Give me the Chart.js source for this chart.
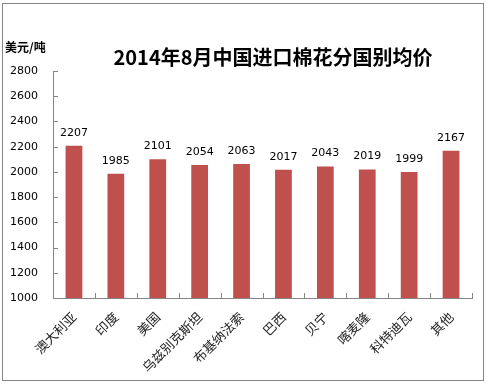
<!DOCTYPE html>
<html>
<head>
<meta charset="utf-8">
<script src="https://cdn.jsdelivr.net/npm/chart.js@4/dist/chart.umd.min.js"></script>
<style>
  html, body { margin: 0; padding: 0; background: #fff; }
  #wrap { position: relative; width: 487px; height: 387px; }
</style>
</head>
<body>
<div id="wrap"><canvas id="chart" width="487" height="387"></canvas></div>
<script>
const countries = ["澳大利亚", "印度", "美国", "乌兹别克斯坦", "布基纳法索", "巴西", "贝宁", "喀麦隆", "科特迪瓦", "其他"];
const prices = [2207, 1985, 2101, 2054, 2063, 2017, 2043, 2019, 1999, 2167];
const yTicks = [1000, 1200, 1400, 1600, 1800, 2000, 2200, 2400, 2600, 2800];

const title = "2014年8月中国进口棉花分国别均价";
const unit = "美元/吨";

const axisGray = "#868686";

// frame, title, unit, inner tick marks, value labels
const decor = {
  id: "decor",
  beforeDraw(chart) {
    const ctx = chart.ctx;
    ctx.save();
    ctx.fillStyle = "#fff";
    ctx.fillRect(0, 0, chart.width, chart.height);
    ctx.strokeStyle = axisGray;
    ctx.lineWidth = 1;
    ctx.strokeRect(2.5, 3.5, 481, 377);
    ctx.restore();
  },
  afterDraw(chart) {
    const ctx = chart.ctx;
    const area = chart.chartArea;
    const x = chart.scales.x, y = chart.scales.y;
    ctx.save();

    ctx.fillStyle = "#000";
    ctx.textAlign = "center";
    ctx.textBaseline = "middle";
    ctx.font = "bold 20px 'Noto Sans CJK SC'";
    ctx.fillText(title, 273, 57);

    ctx.textAlign = "left";
    ctx.font = "bold 12px 'Noto Sans CJK SC'";
    ctx.fillText(unit, 5, 47);

    ctx.strokeStyle = axisGray;
    ctx.lineWidth = 1;
    ctx.beginPath();
    y.ticks.forEach((t, i) => {
      const py = Math.round(y.getPixelForTick(i)) + 0.5;
      ctx.moveTo(area.left, py);
      ctx.lineTo(area.left + 5, py);
    });
    for (let i = 0; i <= countries.length; i++) {
      const px = Math.round(x.getPixelForValue(i - 0.5)) + 0.5;
      ctx.moveTo(px, area.bottom);
      ctx.lineTo(px, area.bottom - 5);
    }
    ctx.stroke();

    ctx.fillStyle = "#000";
    ctx.textAlign = "center";
    ctx.textBaseline = "alphabetic";
    ctx.font = "11px 'DejaVu Sans'";
    chart.getDatasetMeta(0).data.forEach((bar, i) => {
      ctx.fillText(String(prices[i]), bar.x, bar.y - 10);
    });
    ctx.restore();
  }
};

new Chart(document.getElementById("chart"), {
  type: "bar",
  data: {
    labels: countries,
    datasets: [{
      data: prices,
      backgroundColor: "#C0504D",
      borderWidth: 0,
      barPercentage: 0.4,
      categoryPercentage: 1
    }]
  },
  options: {
    responsive: false,
    animation: false,
    layout: { padding: { top: 71, right: 15, bottom: 0, left: 0 } },
    plugins: {
      legend: { display: false },
      tooltip: { enabled: false }
    },
    scales: {
      x: {
        grid: { display: false, drawTicks: false },
        border: { display: true, color: axisGray, width: 1 },
        ticks: {
          autoSkip: false,
          maxRotation: 45,
          minRotation: 45,
          padding: 11,
          color: "#222",
          font: { family: "'Noto Sans CJK SC'", size: 13 }
        },
        afterFit(scale) { scale.height = 89; }
      },
      y: {
        min: 1000,
        max: 2800,
        grid: { display: false, drawTicks: false },
        border: { display: true, color: axisGray, width: 1 },
        afterBuildTicks(scale) { scale.ticks = yTicks.map(v => ({ value: v })); },
        ticks: {
          padding: 15,
          color: "#000",
          font: { family: "'DejaVu Sans'", size: 11 },
          callback: (v) => String(v)
        },
        afterFit(scale) { scale.width = 53; }
      }
    }
  },
  plugins: [decor]
});
</script>
</body>
</html>
